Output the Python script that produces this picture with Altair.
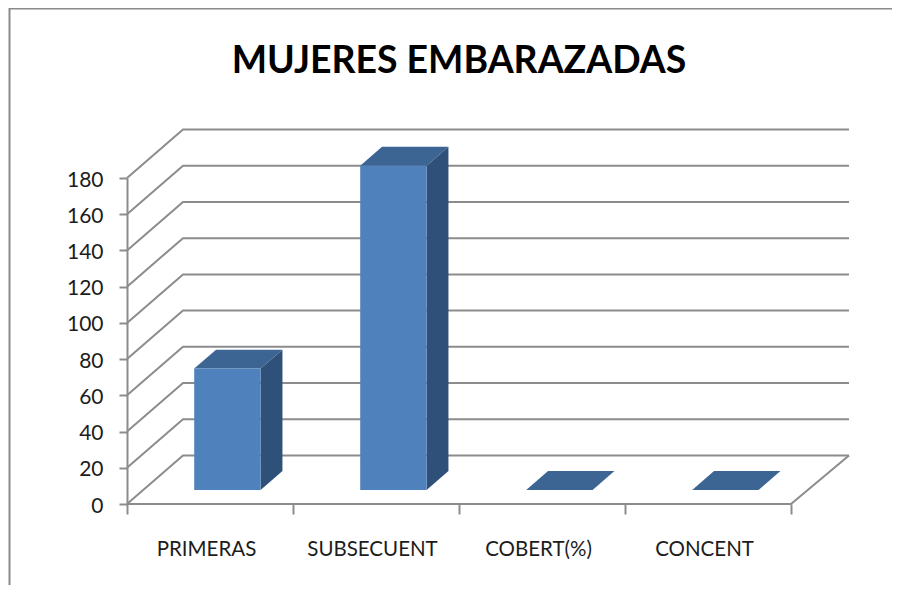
import json
import altair as alt
import pandas as pd

categories = ["PRIMERAS", "SUBSECUENT", "COBERT(%)", "CONCENT"]
values = [67, 179, 0, 0]
y_ticks = [0, 20, 40, 60, 80, 100, 120, 140, 160, 180]
title_text = "MUJERES EMBARAZADAS"

GRAY = "#8c8c8c"
TEXT = "#1c1c1c"
FONT = "Lato"
DX = 56 / 166      # depth shift along the category axis
DY = 48.5 / 1.811  # depth shift along the value axis
BAR_L, BAR_W = 0.307, 0.40
D0, D1 = 0.29, 0.68
n = len(categories)
BACK_END = n + 0.012


def proj(c, v, d):
    return c + d * DX, v + d * DY


# walls / floor lines
grid_rows = []
for t in y_ticks:
    for k, (c, d) in enumerate([(0, 0), (0, 1), (BACK_END, 1)]):
        x, y = proj(c, t, d)
        grid_rows.append({"g": f"t{t}", "k": k, "x": x, "y": y})
for k, (c, d) in enumerate([(0, 0), (n, 0), (BACK_END, 1)]):
    x, y = proj(c, 0, d)
    grid_rows.append({"g": "floor", "k": k, "x": x, "y": y})
grid_df = pd.DataFrame(grid_rows)

# bar faces
front, side, top = [], [], []
for i, v in enumerate(values):
    l, r = i + BAR_L, i + BAR_L + BAR_W
    x0, y0 = proj(l, 0, D0)
    x1, y1 = proj(l, v, D0)
    x2, _ = proj(r, 0, D0)
    front.append({"g": i, "x": x0, "x2": x2, "y": y0, "y2": y1})
    for d in (D0, D1):
        xa, ya = proj(r, 0, d)
        xb, yb = proj(r, v, d)
        side.append({"g": i, "x": xa, "y": ya, "y2": yb})
        xc, yc = proj(l, v, d)
        xe, _ = proj(r, v, d)
        top.append({"g": i, "x": xc, "x2": xe, "y": yc})
front_df, side_df, top_df = pd.DataFrame(front), pd.DataFrame(side), pd.DataFrame(top)

xs = alt.Scale(domain=[0, n], nice=False, zero=False)
ys = alt.Scale(domain=[0, 180], nice=False, zero=False)

x_tick_axis = alt.Axis(
    orient="bottom", values=list(range(n + 1)), labels=False, domain=False, grid=False,
    title=None, tickSize=10, tickWidth=2, tickColor=GRAY,
)
x_label_axis = alt.Axis(
    orient="bottom", values=[i + 0.5 for i in range(n)], ticks=False, domain=False, grid=False,
    title=None, labelExpr=f"{json.dumps(categories)}[floor(datum.value)]",
    labelFont=FONT, labelFontSize=20.5, labelColor=TEXT, labelPadding=35, labelOffset=-4,
    labelOverlap=False, labelBound=False, labelFlush=False,
)
y_axis = alt.Axis(
    values=y_ticks, grid=False, title=None, tickSize=8, tickWidth=2, tickColor=GRAY,
    domainWidth=2, domainColor=GRAY, labelFont=FONT, labelFontSize=21, labelColor=TEXT,
    labelPadding=16, labelOffset=2, labelOverlap=False, labelBound=False, labelFlush=False,
)

lines = alt.Chart(grid_df).mark_line(color=GRAY, strokeWidth=2, clip=False).encode(
    x=alt.X("x:Q", scale=xs, axis=x_tick_axis),
    y=alt.Y("y:Q", scale=ys, axis=y_axis),
    detail="g:N",
    order="k:Q",
)
front_m = alt.Chart(front_df).mark_rect(color="#4f81bd", clip=False).encode(
    x=alt.X("x:Q", scale=xs, axis=x_label_axis), x2="x2:Q",
    y=alt.Y("y:Q", scale=ys, axis=y_axis), y2="y2:Q",
)
side_m = alt.Chart(side_df).mark_area(color="#2f5179", clip=False).encode(
    x=alt.X("x:Q", scale=xs, axis=None),
    y=alt.Y("y:Q", scale=ys, axis=y_axis), y2="y2:Q",
    detail="g:N",
)
top_m = alt.Chart(top_df).mark_area(color="#3c6594", orient="horizontal", clip=False).encode(
    y=alt.Y("y:Q", scale=ys, axis=y_axis),
    x=alt.X("x:Q", scale=xs, axis=None), x2="x2:Q",
    detail="g:N",
)
frame_left = alt.Chart(pd.DataFrame({"a": [0]})).mark_rule(color="#8a8a8a", strokeWidth=2).encode(
    x=alt.value(-117.5), y=alt.value(-170), y2=alt.value(420),
)
frame_top = alt.Chart(pd.DataFrame({"a": [0]})).mark_rule(color="#8a8a8a", strokeWidth=2).encode(
    y=alt.value(-169.5), x=alt.value(-118), x2=alt.value(765),
)

chart = (
    alt.layer(frame_left, frame_top, lines, top_m, side_m, front_m)
    .resolve_axis(x="independent")
    .properties(
        width=664, height=326,
        autosize=alt.AutoSizeParams(type="none"),
        padding={"left": 119, "top": 170, "right": 101, "bottom": 81},
        title=alt.TitleParams(title_text, font=FONT, fontWeight="bold", fontSize=37.4,
                              color="#000000", anchor="middle", baseline="alphabetic", offset=-103),
        background="white",
    )
    .configure_view(stroke=None)
)
chart.save("out.html", embed_options={"renderer": "svg", "actions": False})
